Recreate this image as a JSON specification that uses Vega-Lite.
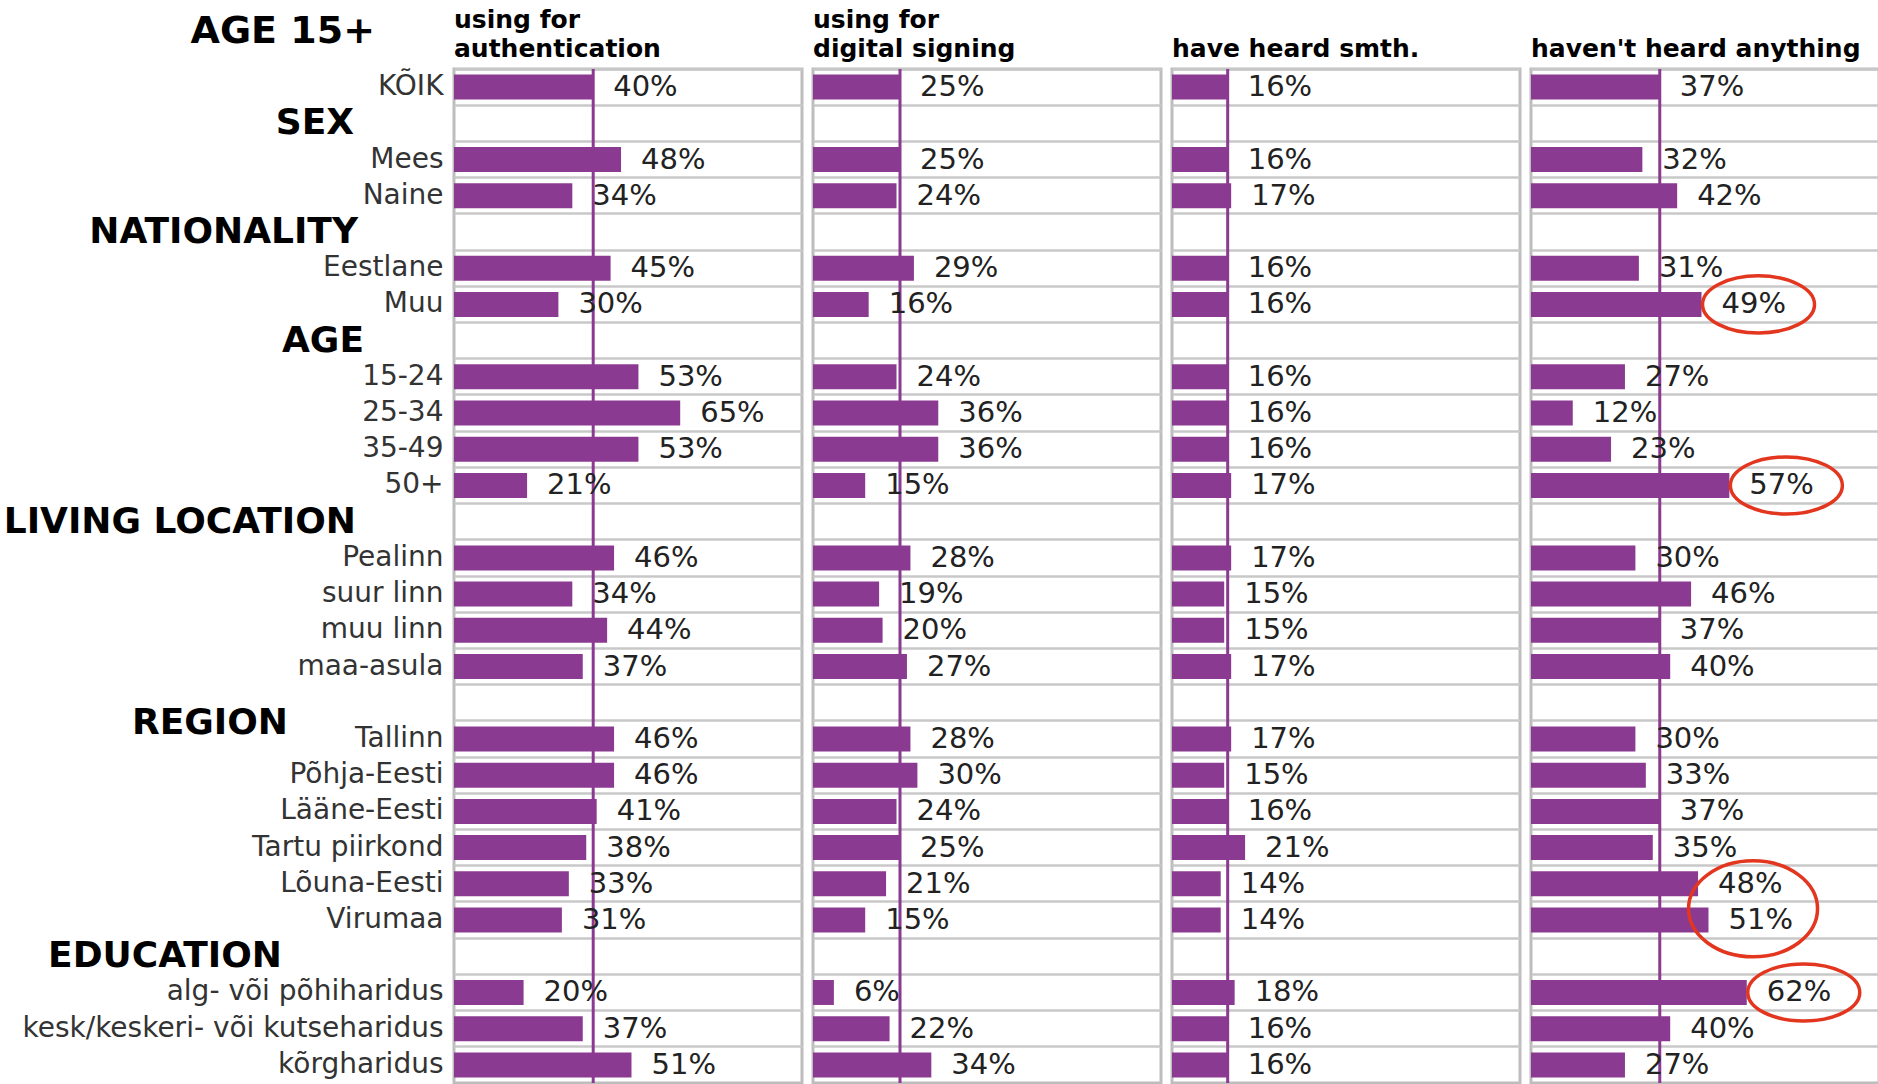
{
  "$schema": "https://vega.github.io/schema/vega-lite/v6.json",
  "padding": {"left": 3, "top": 8, "right": 0, "bottom": 0},
  "background": "white",
  "config": {
    "view": {"stroke": "#bdbdbd", "strokeWidth": 3},
    "font": "DejaVu Sans"
  },
  "data": {"values": [
    {"panel": "using for|authentication", "label": "KÕIK", "value": 0.40},
    {"panel": "using for|authentication", "label": "Mees", "value": 0.48},
    {"panel": "using for|authentication", "label": "Naine", "value": 0.34},
    {"panel": "using for|authentication", "label": "Eestlane", "value": 0.45},
    {"panel": "using for|authentication", "label": "Muu", "value": 0.30},
    {"panel": "using for|authentication", "label": "15-24", "value": 0.53},
    {"panel": "using for|authentication", "label": "25-34", "value": 0.65},
    {"panel": "using for|authentication", "label": "35-49", "value": 0.53},
    {"panel": "using for|authentication", "label": "50+", "value": 0.21},
    {"panel": "using for|authentication", "label": "Pealinn", "value": 0.46},
    {"panel": "using for|authentication", "label": "suur linn", "value": 0.34},
    {"panel": "using for|authentication", "label": "muu linn", "value": 0.44},
    {"panel": "using for|authentication", "label": "maa-asula", "value": 0.37},
    {"panel": "using for|authentication", "label": "Tallinn", "value": 0.46},
    {"panel": "using for|authentication", "label": "Põhja-Eesti", "value": 0.46},
    {"panel": "using for|authentication", "label": "Lääne-Eesti", "value": 0.41},
    {"panel": "using for|authentication", "label": "Tartu piirkond", "value": 0.38},
    {"panel": "using for|authentication", "label": "Lõuna-Eesti", "value": 0.33},
    {"panel": "using for|authentication", "label": "Virumaa", "value": 0.31},
    {"panel": "using for|authentication", "label": "alg- või põhiharidus", "value": 0.20},
    {"panel": "using for|authentication", "label": "kesk/keskeri- või kutseharidus", "value": 0.37},
    {"panel": "using for|authentication", "label": "kõrgharidus", "value": 0.51},
    {"panel": "using for|digital signing", "label": "KÕIK", "value": 0.25},
    {"panel": "using for|digital signing", "label": "Mees", "value": 0.25},
    {"panel": "using for|digital signing", "label": "Naine", "value": 0.24},
    {"panel": "using for|digital signing", "label": "Eestlane", "value": 0.29},
    {"panel": "using for|digital signing", "label": "Muu", "value": 0.16},
    {"panel": "using for|digital signing", "label": "15-24", "value": 0.24},
    {"panel": "using for|digital signing", "label": "25-34", "value": 0.36},
    {"panel": "using for|digital signing", "label": "35-49", "value": 0.36},
    {"panel": "using for|digital signing", "label": "50+", "value": 0.15},
    {"panel": "using for|digital signing", "label": "Pealinn", "value": 0.28},
    {"panel": "using for|digital signing", "label": "suur linn", "value": 0.19},
    {"panel": "using for|digital signing", "label": "muu linn", "value": 0.20},
    {"panel": "using for|digital signing", "label": "maa-asula", "value": 0.27},
    {"panel": "using for|digital signing", "label": "Tallinn", "value": 0.28},
    {"panel": "using for|digital signing", "label": "Põhja-Eesti", "value": 0.30},
    {"panel": "using for|digital signing", "label": "Lääne-Eesti", "value": 0.24},
    {"panel": "using for|digital signing", "label": "Tartu piirkond", "value": 0.25},
    {"panel": "using for|digital signing", "label": "Lõuna-Eesti", "value": 0.21},
    {"panel": "using for|digital signing", "label": "Virumaa", "value": 0.15},
    {"panel": "using for|digital signing", "label": "alg- või põhiharidus", "value": 0.06},
    {"panel": "using for|digital signing", "label": "kesk/keskeri- või kutseharidus", "value": 0.22},
    {"panel": "using for|digital signing", "label": "kõrgharidus", "value": 0.34},
    {"panel": "have heard smth.", "label": "KÕIK", "value": 0.16},
    {"panel": "have heard smth.", "label": "Mees", "value": 0.16},
    {"panel": "have heard smth.", "label": "Naine", "value": 0.17},
    {"panel": "have heard smth.", "label": "Eestlane", "value": 0.16},
    {"panel": "have heard smth.", "label": "Muu", "value": 0.16},
    {"panel": "have heard smth.", "label": "15-24", "value": 0.16},
    {"panel": "have heard smth.", "label": "25-34", "value": 0.16},
    {"panel": "have heard smth.", "label": "35-49", "value": 0.16},
    {"panel": "have heard smth.", "label": "50+", "value": 0.17},
    {"panel": "have heard smth.", "label": "Pealinn", "value": 0.17},
    {"panel": "have heard smth.", "label": "suur linn", "value": 0.15},
    {"panel": "have heard smth.", "label": "muu linn", "value": 0.15},
    {"panel": "have heard smth.", "label": "maa-asula", "value": 0.17},
    {"panel": "have heard smth.", "label": "Tallinn", "value": 0.17},
    {"panel": "have heard smth.", "label": "Põhja-Eesti", "value": 0.15},
    {"panel": "have heard smth.", "label": "Lääne-Eesti", "value": 0.16},
    {"panel": "have heard smth.", "label": "Tartu piirkond", "value": 0.21},
    {"panel": "have heard smth.", "label": "Lõuna-Eesti", "value": 0.14},
    {"panel": "have heard smth.", "label": "Virumaa", "value": 0.14},
    {"panel": "have heard smth.", "label": "alg- või põhiharidus", "value": 0.18},
    {"panel": "have heard smth.", "label": "kesk/keskeri- või kutseharidus", "value": 0.16},
    {"panel": "have heard smth.", "label": "kõrgharidus", "value": 0.16},
    {"panel": "haven't heard anything", "label": "KÕIK", "value": 0.37},
    {"panel": "haven't heard anything", "label": "Mees", "value": 0.32},
    {"panel": "haven't heard anything", "label": "Naine", "value": 0.42},
    {"panel": "haven't heard anything", "label": "Eestlane", "value": 0.31},
    {"panel": "haven't heard anything", "label": "Muu", "value": 0.49, "circled": "single"},
    {"panel": "haven't heard anything", "label": "15-24", "value": 0.27},
    {"panel": "haven't heard anything", "label": "25-34", "value": 0.12},
    {"panel": "haven't heard anything", "label": "35-49", "value": 0.23},
    {"panel": "haven't heard anything", "label": "50+", "value": 0.57, "circled": "single"},
    {"panel": "haven't heard anything", "label": "Pealinn", "value": 0.30},
    {"panel": "haven't heard anything", "label": "suur linn", "value": 0.46},
    {"panel": "haven't heard anything", "label": "muu linn", "value": 0.37},
    {"panel": "haven't heard anything", "label": "maa-asula", "value": 0.40},
    {"panel": "haven't heard anything", "label": "Tallinn", "value": 0.30},
    {"panel": "haven't heard anything", "label": "Põhja-Eesti", "value": 0.33},
    {"panel": "haven't heard anything", "label": "Lääne-Eesti", "value": 0.37},
    {"panel": "haven't heard anything", "label": "Tartu piirkond", "value": 0.35},
    {"panel": "haven't heard anything", "label": "Lõuna-Eesti", "value": 0.48, "circled": "pair"},
    {"panel": "haven't heard anything", "label": "Virumaa", "value": 0.51},
    {"panel": "haven't heard anything", "label": "alg- või põhiharidus", "value": 0.62, "circled": "single"},
    {"panel": "haven't heard anything", "label": "kesk/keskeri- või kutseharidus", "value": 0.40},
    {"panel": "haven't heard anything", "label": "kõrgharidus", "value": 0.27}
  ]},
  "facet": {
    "column": {
      "field": "panel",
      "type": "nominal",
      "sort": ["using for|authentication", "using for|digital signing", "have heard smth.", "haven't heard anything"],
      "header": {
        "title": null,
        "labelOrient": "top",
        "labelAnchor": "start",
        "labelAlign": "left",
        "labelBaseline": "bottom",
        "labelFont": "DejaVu Sans",
        "labelFontSize": 25,
        "labelFontWeight": "bold",
        "labelColor": "#000000",
        "labelPadding": -21,
        "labelLineHeight": 29,
        "labelLimit": 0,
        "labelExpr": "split(datum.value, '|')"
      }
    }
  },
  "spacing": 7,
  "spec": {
    "width": 348,
    "height": 1014,
    "encoding": {
      "y": {
        "field": "label",
        "type": "nominal",
        "scale": {
          "domain": ["KÕIK", "SEX", "Mees", "Naine", "NATIONALITY", "Eestlane", "Muu", "AGE", "15-24", "25-34", "35-49", "50+", "LIVING LOCATION", "Pealinn", "suur linn", "muu linn", "maa-asula", "REGION", "Tallinn", "Põhja-Eesti", "Lääne-Eesti", "Tartu piirkond", "Lõuna-Eesti", "Virumaa", "EDUCATION", "alg- või põhiharidus", "kesk/keskeri- või kutseharidus", "kõrgharidus"],
          "paddingInner": 0,
          "paddingOuter": 0
        },
        "axis": {
          "title": "AGE 15+",
          "titleAngle": 0,
          "titleAlign": "left",
          "titleBaseline": "alphabetic",
          "titleX": -262,
          "titleY": -27,
          "titleFont": "DejaVu Sans",
          "titleFontSize": 38,
          "titleFontWeight": "bold",
          "titleColor": "#000000",
          "ticks": false,
          "domain": false,
          "grid": true,
          "gridColor": "#c8c8c8",
          "gridWidth": 2.5,
          "bandPosition": 0,
          "labelOverlap": false,
          "labelLimit": 0,
          "labelFont": "DejaVu Sans",
          "labelBaseline": "middle",
          "labelFontSize": {"condition": {"test": "indexof(['SEX','NATIONALITY','AGE','LIVING LOCATION','REGION','EDUCATION'], datum.value) >= 0", "value": 36}, "value": 28},
          "labelFontWeight": {"condition": {"test": "indexof(['SEX','NATIONALITY','AGE','LIVING LOCATION','REGION','EDUCATION'], datum.value) >= 0", "value": "bold"}, "value": "normal"},
          "labelColor": {"condition": {"test": "indexof(['SEX','NATIONALITY','AGE','LIVING LOCATION','REGION','EDUCATION'], datum.value) >= 0", "value": "#000000"}, "value": "#333333"},
          "labelOffset": {"condition": {"test": "datum.value === 'REGION'", "value": 20}, "value": 0},
          "labelPadding": {"condition": [
            {"test": "datum.value === 'SEX'", "value": 98.5},
            {"test": "datum.value === 'NATIONALITY'", "value": 94.5},
            {"test": "datum.value === 'AGE'", "value": 88.5},
            {"test": "datum.value === 'LIVING LOCATION'", "value": 96.5},
            {"test": "datum.value === 'REGION'", "value": 164.5},
            {"test": "datum.value === 'EDUCATION'", "value": 170.5}
          ], "value": 9}
        }
      }
    },
    "layer": [
      {
        "mark": {"type": "bar", "color": "#8b3a91", "height": {"band": 0.69}},
        "encoding": {
          "x": {"field": "value", "type": "quantitative", "scale": {"domain": [0, 1], "nice": false}, "axis": null}
        }
      },
      {
        "transform": [{"filter": "datum.label === 'KÕIK'"}],
        "mark": {"type": "rule", "color": "#8b3a91", "strokeWidth": 3},
        "encoding": {
          "x": {"field": "value", "type": "quantitative"},
          "y": null
        }
      },
      {
        "mark": {"type": "text", "align": "left", "baseline": "middle", "dx": 20, "font": "DejaVu Sans", "fontSize": 29, "color": "#222222"},
        "encoding": {
          "x": {"field": "value", "type": "quantitative"},
          "text": {"field": "value", "type": "quantitative", "format": ".0%"}
        }
      },
      {
        "transform": [{"filter": "datum.circled === 'single'"}],
        "mark": {"type": "point", "shape": "M-1,0C-1,-0.281,-0.552,-0.51,0,-0.51C0.552,-0.51,1,-0.281,1,0C1,0.281,0.552,0.51,0,0.51C-0.552,0.51,-1,0.281,-1,0Z", "size": 12544, "filled": false, "stroke": "#e3361f", "strokeWidth": 3.5, "opacity": 1, "xOffset": 57},
        "encoding": {
          "x": {"field": "value", "type": "quantitative"}
        }
      },
      {
        "transform": [{"filter": "datum.circled === 'pair'"}],
        "mark": {"type": "point", "shape": "M-1,0C-1,-0.411,-0.552,-0.744,0,-0.744C0.552,-0.744,1,-0.411,1,0C1,0.411,0.552,0.744,0,0.744C-0.552,0.744,-1,0.411,-1,0Z", "size": 16641, "filled": false, "stroke": "#e3361f", "strokeWidth": 3.5, "opacity": 1, "xOffset": 55, "yOffset": 25},
        "encoding": {
          "x": {"field": "value", "type": "quantitative"}
        }
      }
    ]
  }
}
